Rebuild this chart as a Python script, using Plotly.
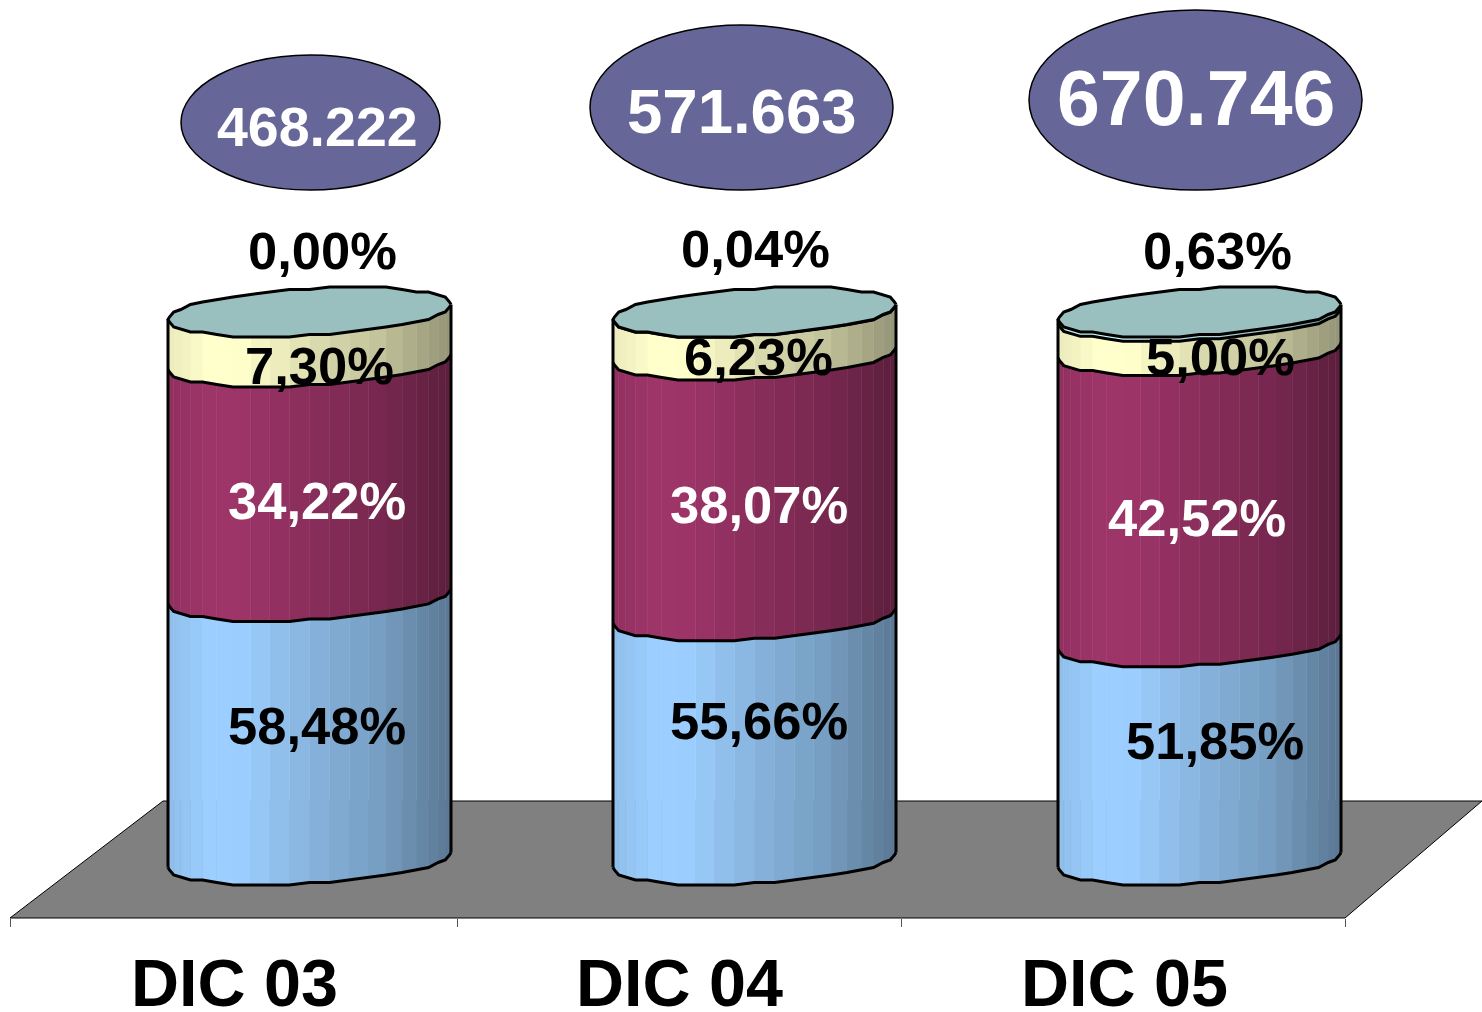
import numpy as np
import plotly.graph_objects as go

# ---- data ----
categories = ["DIC 03", "DIC 04", "DIC 05"]
totals = ["468.222", "571.663", "670.746"]
series_a = [58.48, 55.66, 51.85]   # blue
series_b = [34.22, 38.07, 42.52]   # maroon
series_c = [7.30, 6.23, 5.00]      # yellow
series_d = [0.00, 0.04, 0.63]      # cyan

# ---- layout constants (pixels) ----
W, H, PLOT_B = 1482, 1012, 918
X0, XSTEP = 309.5, 445.0          # cylinder centre, spacing
Y_MIN, KY, Y_BASE = 20.0, 6.85, 860.0   # axis minimum, px per unit, px of axis min
RX, RY, TILT = 141.5, 23.5, 7.5
NSTRIP = 22
SNAP = 2.5
EDGE = 3

x_range = [-X0 / XSTEP, (W - X0) / XSTEP]
y_range = [Y_MIN - (PLOT_B - Y_BASE) / KY, Y_MIN + Y_BASE / KY]

def px(x):
    return x / W
def py(y):
    return 1 - y / PLOT_B

def edge(t):
    dx = RX / XSTEP * np.cos(t)
    off = TILT * np.cos(t) - RY * np.sin(t)
    off = np.round(off / SNAP) * SNAP
    return dx, off / KY

def shade(rgb, u):
    b = np.interp(u, [0, 0.14, 0.26, 0.5, 0.75, 1], [0.92, 1.0, 1.0, 0.87, 0.76, 0.58])
    return "rgb(%d,%d,%d)" % tuple(int(c * b) for c in rgb)

colors = [(0x9C, 0xCF, 0xFF), (0x9E, 0x35, 0x69), (0xFF, 0xFF, 0xCC), (0xCC, 0xFF, 0xFF)]
TOP_COLOR = "#99C0BF"
series = [series_a, series_b, series_c, series_d]

fig = go.Figure()
ts = np.linspace(0, np.pi, NSTRIP + 1)

for i in range(len(categories)):
    low = 0.0
    bounds = [Y_MIN]
    for s, rgb in zip(series, colors):
        v = s[i]
        high = low + v
        bot = max(low, Y_MIN)
        if v > 0:
            for j in range(NSTRIP):
                t = ts[j:j + 2]
                dx, off = edge(t)
                xs = [i + dx[0], i + dx[1], i + dx[1], i + dx[0], i + dx[0]]
                ys = [bot + off[0], bot + off[1], high + off[1], high + off[0], bot + off[0]]
                u = 0.5 + 0.5 * (np.cos(t[0]) + np.cos(t[1])) / 2
                col = shade(rgb, u)
                fig.add_trace(go.Scatter(x=xs, y=ys, mode="lines", fill="toself", fillcolor=col,
                                         line=dict(color=col, width=0.5), hoverinfo="skip", showlegend=False))
            bounds.append(high)
        low = high
    # boundaries between segments
    dx, off = edge(ts)
    for b in bounds[:-1]:
        fig.add_trace(go.Scatter(x=i + dx, y=b + off, mode="lines", line=dict(color="black", width=EDGE),
                                 hoverinfo="skip", showlegend=False))
    # sides
    top = bounds[-1]
    for t0 in (0.0, np.pi):
        d, o = edge(np.array([t0]))
        fig.add_trace(go.Scatter(x=[i + d[0], i + d[0]], y=[Y_MIN + o[0], top + o[0]], mode="lines",
                                 line=dict(color="black", width=EDGE), hoverinfo="skip", showlegend=False))
    # top face
    tt = np.linspace(0, 2 * np.pi, 2 * NSTRIP + 1)
    d, o = edge(tt)
    fig.add_trace(go.Scatter(x=i + d, y=top + o, mode="lines", fill="toself", fillcolor=TOP_COLOR,
                             line=dict(color="black", width=EDGE), hoverinfo="skip", showlegend=False))

# ---- text ----
ann = []
def label(text, x, y, size, color):
    ann.append(dict(text=text, x=px(x), y=py(y), xref="paper", yref="paper", showarrow=False,
                    xanchor="center", yanchor="middle",
                    font=dict(family="Liberation Sans", size=size, color=color, weight="bold")))

def fmt(v):
    return ("%.2f%%" % v).replace(".", ",")

pos_d = [(322.5, 250.5), (755.5, 248.5), (1217.5, 250.5)]
pos_c = [(319.5, 365), (758, 356), (1220, 356)]
pos_b = [(317, 501), (758.5, 504), (1197, 517)]
pos_a = [(317, 725), (758.5, 720), (1215, 740)]
for i in range(3):
    label(fmt(series_d[i]), *pos_d[i], 52.5, "black")
    label(fmt(series_c[i]), *pos_c[i], 52.5, "black")
    label(fmt(series_b[i]), *pos_b[i], 52.5, "white")
    label(fmt(series_a[i]), *pos_a[i], 52.5, "black")

cat_x = [234.5, 679.5, 1124]
for c, x in zip(categories, cat_x):
    label(c, x, 983, 66.5, "black")

ovals = [(181, 55, 440, 190), (590, 25, 893, 190), (1029, 10, 1362, 190)]
tot_pos = [(317, 127, 55.5), (742, 111.5, 63.5), (1196, 98, 77)]
shapes = [dict(type="path", xref="paper", yref="paper", layer="below",
               path="M %f %f L %f %f L %f %f L %f %f Z" % (px(10), py(918), px(163), py(801),
                                                            px(1482), py(801), px(1345), py(918)),
               fillcolor="#808080", line=dict(color="black", width=1))]
for (a, b, c, d), t, (x, y, s) in zip(ovals, totals, tot_pos):
    shapes.append(dict(type="circle", xref="paper", yref="paper", x0=px(a), x1=px(c), y0=py(d), y1=py(b),
                       fillcolor="#666699", line=dict(color="black", width=1.5)))
    label(t, x, y, s, "white")

tick_px = [10, 457, 901, 1345]
fig.update_layout(
    width=W, height=H, margin=dict(l=0, r=0, t=0, b=H - PLOT_B), autosize=False,
    paper_bgcolor="white", plot_bgcolor="white", showlegend=False,
    xaxis=dict(range=x_range, showgrid=False, zeroline=False, showline=False,
               tickmode="array", tickvals=[(p - X0) / XSTEP for p in tick_px], ticktext=["", "", "", ""],
               ticks="outside", ticklen=8, tickcolor="#555555", tickwidth=1),
    yaxis=dict(range=y_range, visible=False),
    annotations=ann, shapes=shapes,
)
fig.write_html("out.html", config={"displayModeBar": False},
               post_script="document.body.style.margin='0';document.body.style.overflow='hidden';")
